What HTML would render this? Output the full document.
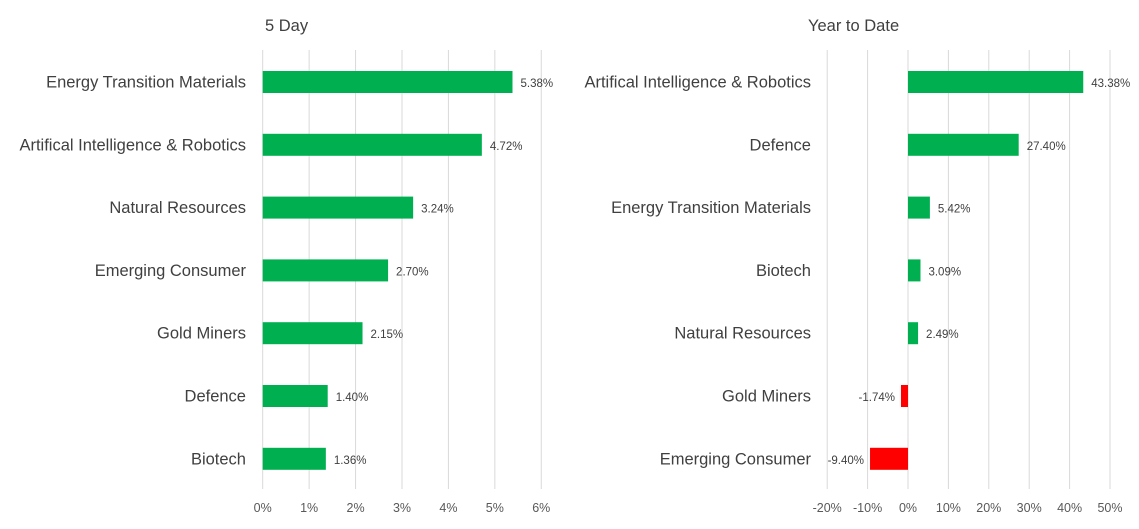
<!DOCTYPE html>
<html><head><meta charset="utf-8"><style>
html,body{margin:0;padding:0;background:#fff;}
svg{display:block;font-family:"Liberation Sans",sans-serif;}
</style></head><body>
<svg id="chart" width="1139" height="529"></svg>
<script>
const leftCats=["Energy Transition Materials","Artifical Intelligence & Robotics","Natural Resources","Emerging Consumer","Gold Miners","Defence","Biotech"];
const leftVals=[5.38,4.72,3.24,2.70,2.15,1.40,1.36];
const leftTicks=[0,1,2,3,4,5,6];
const rightCats=["Artifical Intelligence & Robotics","Defence","Energy Transition Materials","Biotech","Natural Resources","Gold Miners","Emerging Consumer"];
const rightVals=[43.38,27.40,5.42,3.09,2.49,-1.74,-9.40];
const rightTicks=[-20,-10,0,10,20,30,40,50];

const svg=document.getElementById('chart');
const NS="http://www.w3.org/2000/svg";
function mk(tag,attrs,parent){const e=document.createElementNS(NS,tag);for(const k in attrs)e.setAttribute(k,attrs[k]);(parent||svg).appendChild(e);return e;}
function yPos(i){return 82+i*62.8;}

function panel(name,title,titleX,cats,vals,ticks,x0,xScale){
  const g=mk('g',{});
  
  
  const t=mk('text',{x:titleX,y:31,'font-size':16.5,fill:'#404040'},g);
  t.textContent=title;
  
  
  ticks.forEach(v=>{
    const x=xScale(v);
    const l=mk('line',{x1:x,x2:x,y1:50,y2:489,stroke:'#d9d9d9','stroke-width':1},g);
    
    
    const tl=mk('text',{x:x,y:512,'font-size':12.5,fill:'#595959','text-anchor':'middle'},g);
    tl.textContent=v+'%';
    
    
  });
  const zero=xScale(0);
  cats.forEach((c,i)=>{
    const y=yPos(i),v=vals[i],x=xScale(v);
    const lb=mk('text',{x:x0,y:y+5.5,'font-size':16.5,fill:'#404040','text-anchor':'end'},g);
    lb.textContent=c;
    
    
    const r=mk('rect',{x:Math.min(x,zero),y:y-11,width:Math.abs(x-zero),height:22,fill:v>=0?'#00b050':'#ff0000'},g);
    
    
    const dl=mk('text',{x:v>=0?x+8:x-6,y:y+5,'font-size':11.5,fill:'#404040','text-anchor':v>=0?'start':'end'},g);
    dl.textContent=v.toFixed(2)+'%';
    
    
  });
}
panel('five-day-chart','5 Day',265,leftCats,leftVals,leftTicks,246,v=>262.7+v*46.43);
panel('ytd-chart','Year to Date',808,rightCats,rightVals,rightTicks,811,v=>908+v*4.04);
</script>
</body></html>
